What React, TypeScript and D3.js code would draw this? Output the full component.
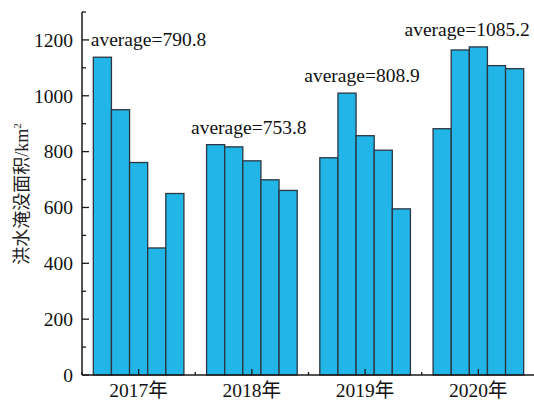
import React from "react";
import * as d3 from "d3";

// Flooded area per year (five observations per year), km²
const years = ["2017年", "2018年", "2019年", "2020年"];
const area2017 = [1138, 950, 761, 455, 650];
const area2018 = [825, 817, 767, 699, 661];
const area2019 = [778, 1009.5, 857, 805, 595];
const area2020 = [882, 1164, 1175, 1108, 1097];
const series = [area2017, area2018, area2019, area2020];
const yTicks = [0, 200, 400, 600, 800, 1000, 1200];
const yMinorTicks = [100, 300, 500, 700, 900, 1100, 1300];

const W = 534;
const H = 404;
const margin = { left: 82, right: -1, top: 12, bottom: 29 };

const SERIF = "'Liberation Serif', 'Times New Roman', 'Noto Sans CJK SC', serif";
const FILL = "#22b5e8";
const EDGE = "#2b3640";
const AXIS = "#1a1a1a";

// horizontal nudge of each average label, in px, relative to its group's first bar
const labelShift = [-2.5, -15.5, -15.5, -28.5];

export default function App() {
  const x0 = margin.left;
  const x1 = W - margin.right;
  const yBase = H - margin.bottom;

  const x = d3
    .scaleBand<string>()
    .domain(years)
    .range([x0, x1])
    .paddingInner(0.2)
    .paddingOuter(0.1);

  const inner = d3
    .scaleBand<number>()
    .domain(d3.range(5))
    .range([0, x.bandwidth()])
    .padding(0);

  const y = d3.scaleLinear().domain([0, 1300]).range([yBase, margin.top]);

  const step = x.step();
  const boundaries = d3.range(years.length + 1).map((i) => x0 + step * i);

  return (
    <svg
      width={W}
      height={H}
      style={{ position: "absolute", left: 0, top: 0, background: "#fff" }}
      fontFamily={SERIF}
    >
      {/* bars */}
      {series.map((vals, gi) => (
        <g key={years[gi]} transform={`translate(${x(years[gi])},0)`}>
          {vals.map((v, i) => (
            <rect
              key={i}
              x={inner(i)}
              y={y(v)}
              width={inner.bandwidth()}
              height={yBase - y(v)}
              fill={FILL}
              stroke={EDGE}
              strokeWidth={1.3}
            />
          ))}
        </g>
      ))}

      {/* average labels */}
      {series.map((vals, gi) => {
        const avg = d3.mean(vals) as number;
        const top = d3.max(vals) as number;
        return (
          <text
            key={"avg" + gi}
            x={(x(years[gi]) as number) + labelShift[gi]}
            y={y(top) - 11}
            fontSize={19.5}
            fill="#111"
          >
            {`average=${avg.toFixed(1)}`}
          </text>
        );
      })}

      {/* y axis */}
      <line x1={x0} x2={x0} y1={y(1300)} y2={yBase} stroke={AXIS} strokeWidth={1.5} />
      {yTicks.map((t) => (
        <g key={"yt" + t}>
          <line x1={x0} x2={x0 + 7} y1={y(t)} y2={y(t)} stroke={AXIS} strokeWidth={1.3} />
          <text
            x={x0 - 9}
            y={y(t)}
            dy="0.35em"
            textAnchor="end"
            fontSize={19.5}
            fill="#111"
          >
            {t}
          </text>
        </g>
      ))}
      {yMinorTicks.map((t) => (
        <line
          key={"ym" + t}
          x1={x0}
          x2={x0 + 4}
          y1={y(t)}
          y2={y(t)}
          stroke={AXIS}
          strokeWidth={1.3}
        />
      ))}

      {/* x axis */}
      <line x1={x0} x2={x1} y1={yBase} y2={yBase} stroke={AXIS} strokeWidth={1.5} />
      {years.map((yr) => {
        const cx = (x(yr) as number) + x.bandwidth() / 2;
        return (
          <g key={"xt" + yr}>
            <line x1={cx} x2={cx} y1={yBase} y2={yBase - 6} stroke={AXIS} strokeWidth={1.3} />
            <text x={cx} y={yBase + 22} textAnchor="middle" fontSize={19.5} fill="#111">
              {yr}
            </text>
          </g>
        );
      })}
      {boundaries.map((bx, i) => (
        <line
          key={"xm" + i}
          x1={bx}
          x2={bx}
          y1={yBase}
          y2={yBase - 3}
          stroke={AXIS}
          strokeWidth={1.3}
        />
      ))}

      {/* y axis title */}
      <text
        transform={`translate(28,194) rotate(-90)`}
        textAnchor="middle"
        fontSize={18}
        fill="#222"
      >
        洪水淹没面积/km
        <tspan fontSize={11} dy={-7}>
          2
        </tspan>
      </text>
    </svg>
  );
}
